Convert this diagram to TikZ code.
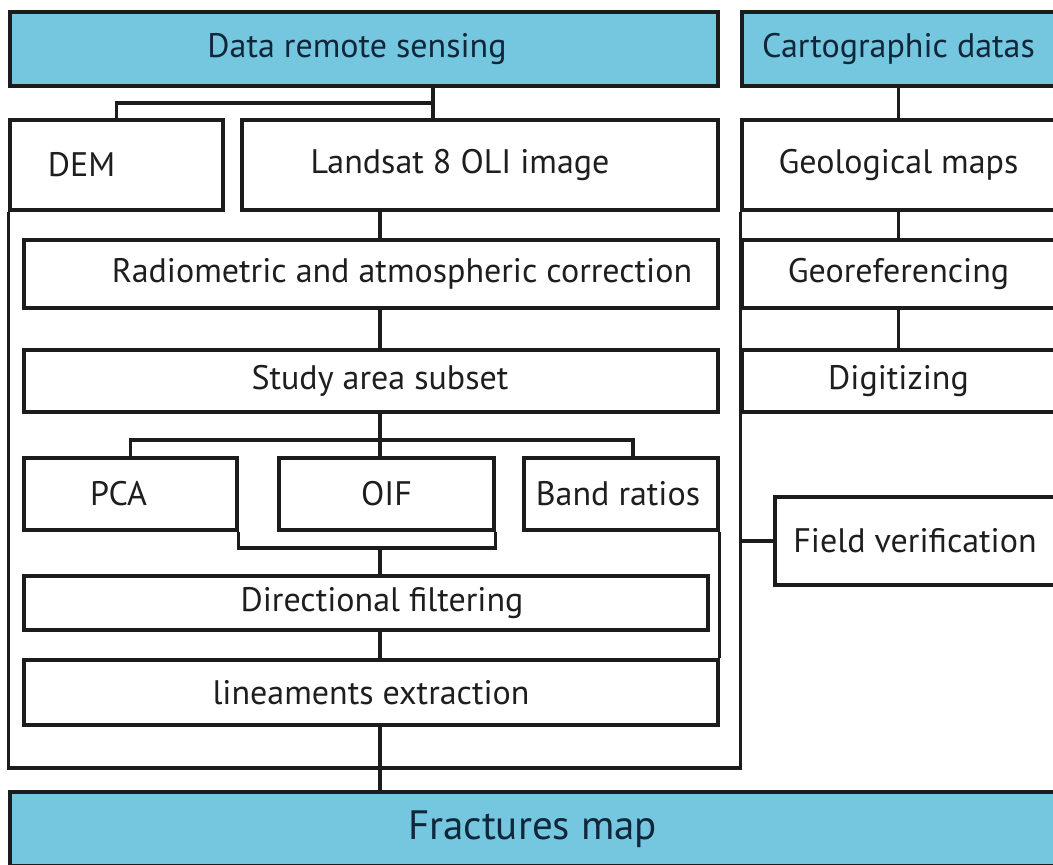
\documentclass[tikz,border=0pt]{standalone}
\usepackage{fontspec}
\setmainfont{PT Sans}
\definecolor{linecol}{HTML}{1C1C1C}
\definecolor{headblue}{HTML}{74C7DF}
\definecolor{headtxt}{HTML}{10263A}
\definecolor{txtcol}{HTML}{1E1E1E}
\begin{document}
\begin{tikzpicture}[x=1pt,y=-1pt,line width=3.2pt,
  box/.style={draw=linecol,fill=white,inner sep=0pt,text=txtcol,
              font=\fontsize{34}{40}\selectfont},
  head/.style={box,fill=headblue,text=headtxt},
  txt/.style={inner sep=0pt,text=txtcol,font=\fontsize{34}{40}\selectfont},
  conn/.style={draw=linecol,line width=3.2pt}]
\useasboundingbox (0,0) rectangle (1053,865);

% headers
\node[head,minimum width=708,minimum height=74,
      label={[txt,text=headtxt,xshift=-7pt]center:Data remote sensing}] (drs) at (364,49) {};
\node[head,minimum width=313,minimum height=74] (cart) at (898.5,49) {Cartographic datas};

% remote sensing chain
\node[box,minimum width=213,minimum height=90,
      label={[txt,xshift=-35pt]center:DEM}] (dem) at (116.5,165) {};
\node[box,minimum width=476,minimum height=90,
      label={[txt,xshift=-20pt]center:Landsat 8 OLI image}] (landsat) at (480,165) {};
\node[box,minimum width=694,minimum height=68,
      label={[txt,xshift=31pt]center:Radiometric and atmospheric correction}] (radio) at (371,274) {};
\node[box,minimum width=694,minimum height=62,
      label={[txt,xshift=9pt]center:Study area subset}] (sa) at (371,381) {};
\node[box,minimum width=213,minimum height=72,
      label={[txt,xshift=-12pt]center:PCA}] (pca) at (130.5,494) {};
\node[box,minimum width=215,minimum height=72] (oif) at (386.5,494) {OIF};
\node[box,minimum width=194,minimum height=72,
      label={[txt,xshift=-3pt]center:Band ratios}] (band) at (621,494) {};
\node[box,minimum width=684,minimum height=54,
      label={[txt,xshift=16pt]center:Directional filtering}] (dir) at (366,603) {};
\node[box,minimum width=694,minimum height=65] (lin) at (371,692.5) {lineaments extraction};

% cartographic chain
\node[box,minimum width=313,minimum height=90] (geo) at (898.5,165) {Geological maps};
\node[box,minimum width=313,minimum height=68] (georef) at (898.5,274) {Georeferencing};
\node[box,minimum width=313,minimum height=62] (digit) at (898.5,381) {Digitizing};
\node[box,minimum width=280,minimum height=88] (fv) at (915,541) {Field verification};

% result
\node[head,minimum width=1045,minimum height=74,
      font=\fontsize{41}{48}\selectfont] (frac) at (532.5,829) {Fractures map};

% junction coordinates
\coordinate (sp) at (380,0);
\coordinate (tp) at (433,0);
\coordinate (bj) at (633,0);
\coordinate (j1) at (433,103);
\coordinate (j2) at (380,440);
\coordinate (j3) at (380,548);
\coordinate (fb) at (0,768);

% connectors
\draw[conn] (drs.south -| tp) -- (landsat.north -| tp);
\draw[conn] (j1) -| (dem.north);
\draw[conn] (landsat.south -| sp) -- (radio.north -| sp);
\draw[conn] (radio.south -| sp) -- (sa.north -| sp);
\draw[conn] (sa.south -| sp) -- (oif.north -| sp);
\draw[conn] (pca.north) |- (bj |- j2) -- (band.north -| bj);
\draw[conn] (pca.south east) |- (oif.south east |- j3) -- (oif.south east);
\draw[conn] (j3) -- (dir.north -| sp);
\draw[conn] (dir.south -| sp) -- (lin.north -| sp);
\draw[conn] (band.south east) -- (lin.north east);
\draw[conn] (lin.south -| sp) -- (frac.north -| sp);
\draw[conn] (dem.south west) |- (fb -| geo.south west) -- (geo.south west);
\draw[conn] (cart.south) -- (geo.north);
\draw[conn] (geo.south) -- (georef.north);
\draw[conn] (georef.south) -- (digit.north);
\draw[conn] (fv.west -| geo.west) -- (fv.west);
\end{tikzpicture}
\end{document}
